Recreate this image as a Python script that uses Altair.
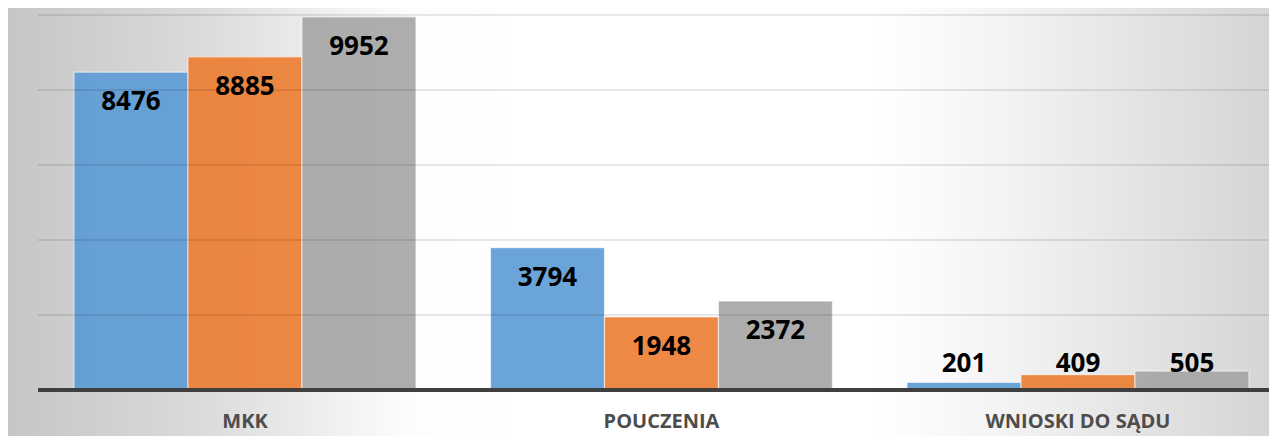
import altair as alt
import pandas as pd

# ---- data ----
categories = ["MKK", "POUCZENIA", "WNIOSKI DO SĄDU"]
series = ["Seria 1", "Seria 2", "Seria 3"]
values_s1 = [8476, 3794, 201]
values_s2 = [8885, 1948, 409]
values_s3 = [9952, 2372, 505]
grid_ticks = [2000, 4000, 6000, 8000, 10000]
colors = ["#5B9BD5", "#ED7D31", "#A5A5A5"]

rows = []
for s, vals in zip(series, [values_s1, values_s2, values_s3]):
    for c, v in zip(categories, vals):
        rows.append({"kategoria": c, "seria": s, "wartosc": v})
df = pd.DataFrame(rows)
df_cat = pd.DataFrame({"kategoria": categories})

W, H = 1261, 428
FONT = "Open Sans"

y_scale = alt.Scale(domain=[-1227, 10187], nice=False, zero=False)
x_scale = alt.Scale(domain=categories, paddingInner=0.179, paddingOuter=0.1033,
                    align=0.767, round=False)
xo_scale = alt.Scale(domain=series, paddingInner=0, paddingOuter=0)
c_scale = alt.Scale(domain=series, range=colors)

gradient = alt.LinearGradient(
    gradient="linear", x1=0, y1=0.5, x2=1, y2=0.5,
    stops=[
        alt.GradientStop(offset=0, color="#c6c6c6"),
        alt.GradientStop(offset=0.15, color="#dadada"),
        alt.GradientStop(offset=0.32, color="#fdfdfd"),
        alt.GradientStop(offset=0.40, color="#ffffff"),
        alt.GradientStop(offset=0.69, color="#ffffff"),
        alt.GradientStop(offset=0.79, color="#f3f3f3"),
        alt.GradientStop(offset=1, color="#d5d5d5"),
    ],
)

one = alt.Data(values=[{"a": 1}])

bg = alt.Chart(one).mark_rect(fill=gradient, strokeWidth=0).encode(
    x=alt.value(0), x2=alt.value(W), y=alt.value(0), y2=alt.value(H)
)

bars = alt.Chart(df).mark_bar(
    opacity=0.9, stroke="white", strokeWidth=1.2, strokeOpacity=0.6
).encode(
    x=alt.X("kategoria:N", scale=x_scale, sort=categories, axis=None),
    xOffset=alt.XOffset("seria:N", scale=xo_scale, sort=series),
    y=alt.Y("wartosc:Q", scale=y_scale, axis=None, stack=None),
    color=alt.Color("seria:N", scale=c_scale, legend=None),
)

grid = alt.Chart(pd.DataFrame({"t": grid_ticks})).mark_rule(
    color="black", opacity=0.12, strokeWidth=1.5
).encode(
    y=alt.Y("t:Q", scale=y_scale, axis=None),
    x=alt.value(30), x2=alt.value(W),
)

baseline = alt.Chart(one).mark_rule(color="#3f3f3f", strokeWidth=4).encode(
    y=alt.YDatum(0, axis=None), x=alt.value(30), x2=alt.value(W)
)

lab_big = alt.Chart(df).transform_filter("datum.wartosc >= 1000").mark_text(
    font=FONT, fontWeight="bold", fontSize=26, color="black", dy=30, baseline="middle"
).encode(
    x=alt.X("kategoria:N", scale=x_scale, sort=categories, axis=None),
    xOffset=alt.XOffset("seria:N", scale=xo_scale, sort=series),
    y=alt.Y("wartosc:Q", scale=y_scale, axis=None),
    text=alt.Text("wartosc:Q", format="d"),
)

lab_small = alt.Chart(df).transform_filter("datum.wartosc < 1000").mark_text(
    font=FONT, fontWeight="bold", fontSize=26, color="black", baseline="middle"
).encode(
    x=alt.X("kategoria:N", scale=x_scale, sort=categories, axis=None),
    xOffset=alt.XOffset("seria:N", scale=xo_scale, sort=series),
    y=alt.YDatum(700, axis=None),
    text=alt.Text("wartosc:Q", format="d"),
)

cat_labels = alt.Chart(df_cat).mark_text(
    font=FONT, fontWeight="bold", fontSize=20, color="#4d4d4d", baseline="middle"
).encode(
    x=alt.X("kategoria:N", scale=x_scale, sort=categories, axis=None),
    y=alt.YDatum(-845, axis=None),
    text="kategoria:N",
)

chart = alt.layer(bg, bars, grid, baseline, lab_big, lab_small, cat_labels).properties(
    width=W, height=H, padding=0,
    autosize=alt.AutoSizeParams(type="none"),
    background="white",
).configure_view(strokeWidth=0)

chart.save("out.html", embed_options={"renderer": "svg", "actions": False})
